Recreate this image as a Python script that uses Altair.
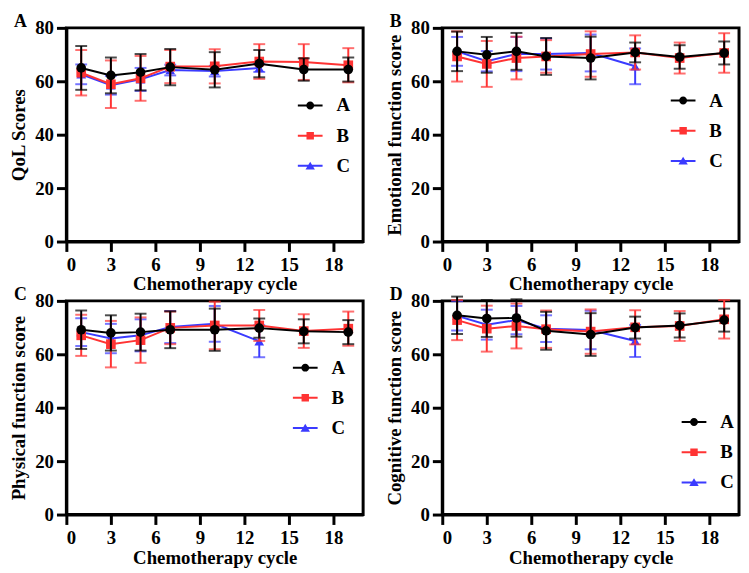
import altair as alt
import pandas as pd

cycles = [1, 3, 5, 7, 10, 13, 16, 19]
groups = ["A", "B", "C"]
colors = {"A": "#000000", "B": "#FF3333", "C": "#3B3BFF"}
shapes = {"A": "circle", "B": "square", "C": "triangle-up"}

panel_letters = ["A", "B", "C", "D"]
y_titles = ["QoL Scores", "Emotional function score", "Physical function score", "Cognitive function score"]

qol_mean = {"A": [65.0, 62.2, 63.4, 65.3, 64.3, 66.6, 64.4, 64.4],
            "B": [63.2, 58.9, 61.1, 65.5, 65.6, 67.4, 67.2, 66.0],
            "C": [62.6, 58.5, 60.7, 64.2, 63.8, 65.0]}
qol_sd = {"A": [8.2, 6.7, 6.8, 6.8, 6.6, 5.1, 4.2, 4.5],
          "B": [8.5, 8.9, 8.4, 6.2, 6.4, 6.5, 6.7, 6.4],
          "C": [3.7, 3.5, 4.3, 2.0, 2.0, 1.5]}

emo_mean = {"A": [71.2, 69.9, 71.2, 69.3, 68.7, 70.8, 69.1, 70.6],
            "B": [69.3, 66.5, 68.7, 69.3, 70.2, 70.8, 68.7, 70.6],
            "C": [71.2, 67.5, 70.2, 70.2, 70.6, 65.6]}
emo_sd = {"A": [7.4, 6.7, 6.9, 6.9, 8.0, 3.7, 4.4, 4.3],
          "B": [9.4, 8.6, 8.0, 6.1, 8.5, 6.4, 5.8, 7.4],
          "C": [5.4, 3.8, 6.4, 5.8, 6.9, 6.7]}

phy_mean = {"A": [69.2, 68.0, 68.3, 69.2, 69.2, 69.8, 68.6, 68.3],
            "B": [67.1, 63.8, 65.3, 69.9, 70.8, 70.8, 68.7, 69.6],
            "C": [68.3, 65.9, 67.1, 70.2, 71.4, 64.9]}
phy_sd = {"A": [7.2, 6.6, 6.9, 6.9, 7.9, 3.6, 4.5, 4.5],
          "B": [7.7, 8.7, 8.5, 6.1, 8.9, 5.8, 6.3, 6.4],
          "C": [5.2, 5.5, 6.0, 6.0, 6.7, 6.0]}

cog_mean = {"A": [74.6, 73.4, 73.6, 68.8, 67.4, 70.0, 70.8, 72.8],
            "B": [72.8, 69.6, 70.6, 69.4, 68.5, 70.1, 70.6, 73.1],
            "C": [74.4, 71.1, 72.8, 69.6, 69.1, 65.0]}
cog_sd = {"A": [7.0, 6.9, 7.0, 7.1, 8.0, 4.1, 4.5, 4.3],
          "B": [7.5, 8.6, 8.4, 7.0, 8.3, 6.4, 5.6, 7.2],
          "C": [5.5, 5.6, 5.3, 5.0, 7.2, 6.0]}

means = [qol_mean, emo_mean, phy_mean, cog_mean]
sds = [qol_sd, emo_sd, phy_sd, cog_sd]
legend_pos = [(234, 66), (231, 61), (229, 55), (242, 110)]

x_ticks = [0, 3, 6, 9, 12, 15, 18]
y_ticks = [0, 20, 40, 60, 80]

FONT = "Liberation Serif"

# custom legend symbols: a line segment with the marker on it
line_seg = "M-1,-0.08L1,-0.08L1,0.08L-1,0.08Z"
leg_paths = [
    line_seg + " M0.32,0A0.32,0.32 0 1,1 -0.32,0A0.32,0.32 0 1,1 0.32,0Z",
    line_seg + " M-0.3,-0.3L0.3,-0.3L0.3,0.3L-0.3,0.3Z",
    line_seg + " M0,-0.34L0.38,0.3L-0.38,0.3Z",
]


def make_panel(i):
    rows = []
    for g in groups:
        m = means[i][g]
        s = sds[i][g]
        for c, mv, sv in zip(cycles, m, s):
            rows.append({"cycle": c, "group": g, "mean": mv, "lo": mv - sv, "hi": mv + sv})
    df = pd.DataFrame(rows)

    xs = alt.Scale(domain=[0, 20], nice=False)
    ys = alt.Scale(domain=[0, 80], nice=False)
    xaxis = alt.Axis(values=x_ticks, title="Chemotherapy cycle", grid=False)
    yaxis = alt.Axis(values=y_ticks, title=y_titles[i], grid=False)

    def X():
        return alt.X("cycle:Q", scale=xs, axis=xaxis)

    def Y(f):
        return alt.Y(f + ":Q", scale=ys, axis=yaxis)

    base = alt.Chart(df)
    layers = []
    for g in ["C", "B", "A"]:
        d = base.transform_filter(alt.datum.group == g)
        col = colors[g]
        layers.append(d.mark_rule(color=col, strokeWidth=2).encode(x=X(), y=Y("lo"), y2="hi:Q"))
        layers.append(d.mark_tick(color=col, orient="horizontal", size=12, thickness=2).encode(x=X(), y=Y("lo")))
        layers.append(d.mark_tick(color=col, orient="horizontal", size=12, thickness=2).encode(x=X(), y=Y("hi")))
        layers.append(d.mark_line(color=col, strokeWidth=2).encode(x=X(), y=Y("mean")))
        layers.append(d.mark_point(filled=True, opacity=1, color=col, shape=shapes[g], size=95).encode(x=X(), y=Y("mean")))

    lx, ly = legend_pos[i]
    leg = alt.Legend(title=None, orient="none", legendX=lx, legendY=ly, symbolSize=625,
                     symbolOpacity=1, symbolStrokeWidth=0, labelFont=FONT, labelFontSize=19,
                     labelFontWeight="bold", labelColor="black", labelOffset=14, rowPadding=7.5,
                     padding=0)
    legend_layer = base.mark_point(filled=True, opacity=0).encode(
        x=X(), y=Y("mean"),
        color=alt.Color("group:N", scale=alt.Scale(domain=groups, range=[colors[g] for g in groups]), legend=leg),
        shape=alt.Shape("group:N", scale=alt.Scale(domain=groups, range=leg_paths), legend=leg),
    )
    layers.append(legend_layer)

    letter = alt.Chart(pd.DataFrame({"t": [panel_letters[i]]})).mark_text(
        align="left", baseline="alphabetic", font=FONT, fontSize=18, fontWeight="bold", color="black"
    ).encode(text="t:N", x=alt.value(-53), y=alt.value(-1))
    layers.append(letter)

    return alt.layer(*layers).resolve_scale(color="independent", shape="independent").properties(
        width=300, height=216)


panels = [make_panel(i) for i in range(4)]

chart = alt.concat(*panels, columns=2, spacing={"row": 60, "column": 80}, bounds="flush").properties(
    padding=0
).configure_view(
    stroke="black", strokeWidth=3
).configure_axis(
    domainColor="black", domainWidth=3, tickColor="black", tickWidth=3, tickSize=10,
    labelFont=FONT, labelFontSize=19, labelFontWeight="bold", labelColor="black", labelPadding=3,
    titleFont=FONT, titleFontSize=19, titleFontWeight="bold", titleColor="black",
).configure_axisY(titlePadding=6).configure_axisX(labelPadding=4, titlePadding=1)

chart.save("out.html", embed_options={"renderer": "svg", "actions": False})
